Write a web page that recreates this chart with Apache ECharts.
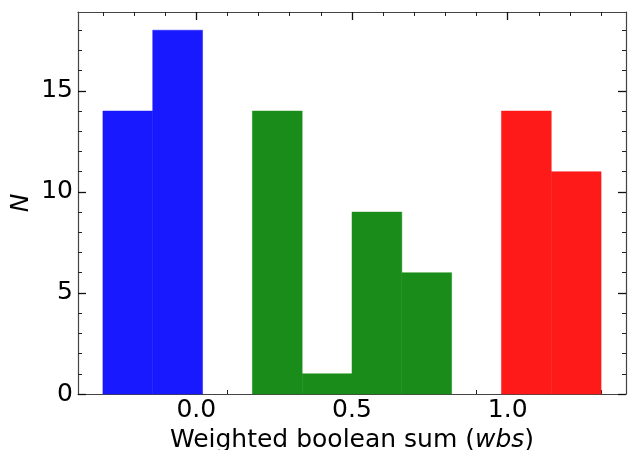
<!DOCTYPE html>
<html>
<head>
<meta charset="utf-8">
<script src="https://cdn.jsdelivr.net/npm/echarts@6.0.0/dist/echarts.min.js"></script>
<style>
  html, body { margin: 0; padding: 0; background: #fff; }
  #chart { width: 632px; height: 450px; }
</style>
</head>
<body>
<div id="chart"></div>
<script>
// histogram: 10 bins from -0.3 to 1.3
const binEdges = [-0.30, -0.14, 0.02, 0.18, 0.34, 0.50, 0.66, 0.82, 0.98, 1.14, 1.30];
const binCounts = [14, 18, 0, 14, 1, 9, 6, 0, 14, 11];
const binGroup = ['blue', 'blue', 'none', 'green', 'green', 'green', 'green', 'none', 'red', 'red'];

const xMajorTicks = [0.0, 0.5, 1.0];
const xMinorTicks = [-0.3, -0.2, -0.1, 0.1, 0.2, 0.3, 0.4, 0.6, 0.7, 0.8, 0.9, 1.1, 1.2, 1.3];
const yMajorTicks = [0, 5, 10, 15];
const yMinorTicks = [1, 2, 3, 4, 6, 7, 8, 9, 11, 12, 13, 14, 16, 17, 18];

const groupColors = { blue: '#1919ff', green: '#1a8c1a', red: '#ff1a1a' };

const X_MIN = -0.38, X_MAX = 1.38, Y_MIN = 0, Y_MAX = 18.9;
const FRAME = '#444';
const FONT = 'DejaVu Sans';
const FS = 25;

const gridRect = { left: 78, right: 6, top: 12, bottom: 56 };

// bins -> custom series data
const histData = [];
for (let i = 0; i < binCounts.length; i++) {
  if (binCounts[i] > 0) {
    histData.push([binEdges[i], binEdges[i + 1], binCounts[i], binGroup[i]]);
  }
}

function minorAxis(gridIndex, position, min, max, ticks) {
  // axis that only draws the short inner ticks
  return {
    type: 'value', gridIndex: gridIndex, position: position,
    min: min, max: max,
    axisLine: { show: false, onZero: false },
    axisLabel: { show: false },
    splitLine: { show: false },
    axisTick: { show: true, inside: true, length: 4, customValues: ticks, lineStyle: { color: '#222', width: 1 } }
  };
}

function majorAxis(position, min, max, ticks, extra) {
  return Object.assign({
    type: 'value', gridIndex: 0, position: position,
    min: min, max: max,
    axisLine: { show: true, onZero: false, lineStyle: { color: FRAME, width: 1.2 } },
    axisTick: { show: true, inside: true, length: 8, customValues: ticks, lineStyle: { color: '#111', width: 1.3 } },
    axisLabel: { show: false },
    splitLine: { show: false }
  }, extra || {});
}

const chart = echarts.init(document.getElementById('chart'), null, { renderer: 'canvas' });

const option = {
  backgroundColor: '#fff',
  animation: false,
  grid: [
    Object.assign({ containLabel: false, outerBoundsMode: 'none' }, gridRect),
    Object.assign({ containLabel: false, outerBoundsMode: 'none' }, gridRect)
  ],
  xAxis: [
    majorAxis('bottom', X_MIN, X_MAX, xMajorTicks, {
      axisLabel: {
        show: true, customValues: xMajorTicks, margin: 4,
        formatter: v => v.toFixed(1),
        color: '#000', fontSize: FS, fontFamily: FONT
      },
      name: '{r|Weighted boolean sum (}{i|wbs}{r|)}',
      nameLocation: 'middle', nameGap: 30,
      nameTextStyle: {
        rich: {
          r: { fontSize: FS, fontFamily: FONT, color: '#000' },
          i: { fontSize: FS, fontFamily: FONT, fontStyle: 'italic', color: '#000' }
        }
      }
    }),
    majorAxis('top', X_MIN, X_MAX, xMajorTicks),
    minorAxis(1, 'bottom', X_MIN, X_MAX, xMinorTicks),
    minorAxis(1, 'top', X_MIN, X_MAX, xMinorTicks)
  ],
  yAxis: [
    majorAxis('left', Y_MIN, Y_MAX, yMajorTicks, {
      axisLabel: {
        show: true, customValues: yMajorTicks, margin: 5,
        color: '#000', fontSize: FS, fontFamily: FONT
      },
      name: 'N',
      nameLocation: 'middle', nameGap: 44,
      nameMoveOverlap: false,
      nameTextStyle: { fontSize: FS, fontFamily: FONT, fontStyle: 'italic', color: '#000' }
    }),
    majorAxis('right', Y_MIN, Y_MAX, yMajorTicks),
    minorAxis(1, 'left', Y_MIN, Y_MAX, yMinorTicks),
    minorAxis(1, 'right', Y_MIN, Y_MAX, yMinorTicks)
  ],
  series: [
    {
      type: 'custom',
      xAxisIndex: 0,
      yAxisIndex: 0,
      z: 1,
      data: histData,
      renderItem: function (params, api) {
        const p0 = api.coord([api.value(0), api.value(2)]);
        const p1 = api.coord([api.value(1), 0]);
        const grp = histData[params.dataIndex][3];
        return {
          type: 'rect',
          shape: { x: p0[0], y: p0[1], width: p1[0] - p0[0], height: p1[1] - p0[1] },
          style: { fill: groupColors[grp], stroke: groupColors[grp], lineWidth: 0.5 }
        };
      }
    }
  ]
};

chart.setOption(option);
</script>
</body>
</html>
